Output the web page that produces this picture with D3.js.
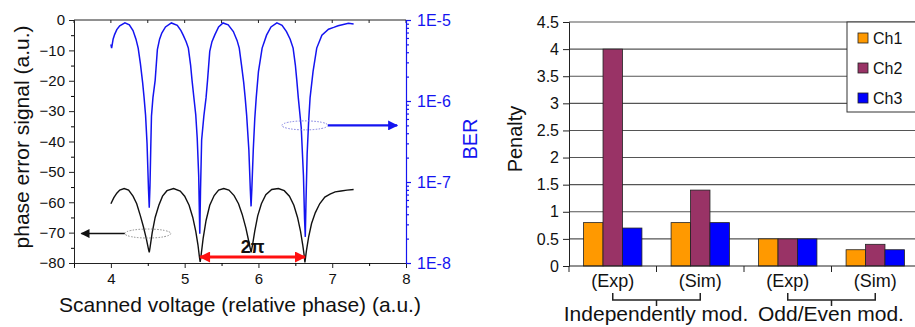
<!DOCTYPE html>
<html>
<head>
<meta charset="utf-8">
<script src="https://cdn.jsdelivr.net/npm/d3@7"></script>
<style>
body { margin: 0; background: #fff; }
text { font-family: Arial, "Liberation Sans", sans-serif; }
</style>
</head>
<body>
<svg id="chart" width="915" height="327"></svg>
<script>
// left panel: phase error signal (black) and BER (blue) vs scanned voltage
const errV = [4.00,4.04,4.08,4.12,4.18,4.24,4.30,4.35,4.40,4.44,4.48,4.51,4.52,4.53,4.56,4.60,4.65,4.70,4.76,4.85,
  4.94,5.00,5.06,5.11,5.15,5.18,5.20,5.21,5.22,5.25,5.29,5.34,5.40,5.46,5.53,5.60,5.67,5.73,5.78,5.83,
  5.87,5.90,5.92,5.95,5.99,6.04,6.10,6.18,6.27,6.35,6.42,6.48,6.53,6.57,6.60,6.62,6.63,6.65,6.68,6.72,
  6.77,6.83,6.90,6.97,7.04,7.12,7.20,7.29];
const errS = [-60.5,-58.5,-57.0,-56.0,-55.5,-56.0,-58.0,-60.5,-64.5,-68.0,-72.0,-75.5,-76.5,-75.0,-70.0,-65.0,-61.0,-58.0,-56.2,-55.5,
  -56.3,-58.0,-61.0,-65.0,-69.5,-74.0,-78.0,-79.6,-78.0,-72.0,-66.0,-61.0,-57.8,-56.0,-55.5,-56.0,-57.8,-60.5,-64.0,-68.5,
  -73.0,-76.5,-74.0,-69.5,-64.5,-60.5,-57.5,-55.8,-55.5,-56.2,-58.0,-61.0,-65.0,-69.5,-74.0,-77.5,-79.8,-76.0,-71.5,-67.0,
  -63.5,-60.5,-58.3,-57.3,-56.6,-56.3,-56.0,-55.8];

const berV = [4.00,4.01,4.03,4.05,4.08,4.12,4.19,4.25,4.30,4.34,4.37,4.40,4.43,4.45,4.47,4.49,4.51,4.52,4.53,4.54,
  4.55,4.57,4.60,4.63,4.66,4.69,4.74,4.82,4.90,4.95,4.98,5.02,5.05,5.08,5.10,5.13,5.15,5.17,5.19,5.205,
  5.215,5.23,5.26,5.29,5.31,5.34,5.37,5.41,5.46,5.52,5.59,5.66,5.71,5.74,5.77,5.80,5.82,5.84,5.87,5.89,
  5.90,5.91,5.93,5.95,5.97,6.00,6.05,6.11,6.17,6.25,6.32,6.38,6.43,6.47,6.50,6.52,6.54,6.58,6.61,6.625,
  6.635,6.645,6.66,6.68,6.70,6.74,6.79,6.86,6.95,7.02,7.08,7.15,7.22,7.29];
const berVal = [5.0e-6,4.5e-6,5.8e-6,6.6e-6,7.6e-6,8.5e-6,9.2e-6,8.7e-6,7.4e-6,5.8e-6,4.5e-6,2.9e-6,1.7e-6,1.1e-6,6.7e-7,3.0e-7,8e-8,4.8e-8,9e-8,2.5e-7,
  6.5e-7,1.1e-6,1.8e-6,4.3e-6,5.8e-6,6.9e-6,8.2e-6,9.2e-6,8.6e-6,7.4e-6,6.5e-6,5.4e-6,4.5e-6,2.8e-6,1.8e-6,1.0e-6,6.8e-7,3.5e-7,1.2e-7,2.3e-8,
  8e-8,3.3e-7,6.5e-7,1.1e-6,1.8e-6,4.1e-6,5.4e-6,6.6e-6,8.2e-6,9.2e-6,8.7e-6,7.2e-6,5.6e-6,4.5e-6,2.8e-6,1.7e-6,1.1e-6,6.7e-7,2.5e-7,8e-8,
  5e-8,8e-8,2.5e-7,6e-7,1.1e-6,2.3e-6,4.5e-6,6.5e-6,8.2e-6,9.2e-6,8.6e-6,7.2e-6,5.8e-6,4.5e-6,2.8e-6,1.8e-6,1.1e-6,4.7e-7,1.2e-7,3.5e-8,
  2.1e-8,6e-8,2.2e-7,5.5e-7,1.1e-6,2.3e-6,4.5e-6,6.5e-6,7.7e-6,8.1e-6,8.5e-6,8.8e-6,9.1e-6,8.9e-6];

const voltTicks = [4, 5, 6, 7, 8];
const errTicks = [0, -10, -20, -30, -40, -50, -60, -70, -80];
const berTicks = [1e-5, 1e-6, 1e-7, 1e-8];

// right panel: penalty bars
const groupKeys = ["indExp", "indSim", "oeExp", "oeSim"];
const tickLabels = ["(Exp)", "(Sim)", "(Exp)", "(Sim)"];
const groupLabels = ["Independently mod.", "Odd/Even mod."];
const series = ["Ch1", "Ch2", "Ch3"];
const ch1 = [0.8, 0.8, 0.5, 0.3];
const ch2 = [4.0, 1.4, 0.5, 0.4];
const ch3 = [0.7, 0.8, 0.5, 0.3];
const penaltyTicks = [0, 0.5, 1, 1.5, 2, 2.5, 3, 3.5, 4, 4.5];
const colors = ["#ff9900", "#993366", "#0000ff"];

const svg = d3.select('#chart');
svg.append('rect').attr('width', 915).attr('height', 327).attr('fill', '#fff');

// ---------- left panel ----------
const x = d3.scaleLinear().domain([3.5, 8]).range([74, 406]);
const y = d3.scaleLinear().domain([-80, 0]).range([263, 20]);
const yb = d3.scaleLog().domain([1e-8, 1e-5]).range([263, 20]);
const blue = '#1414f0';

const left = svg.append('g');

// frame top with small ticks
left.append('line').attr('x1', x(3.5)).attr('x2', x(8)).attr('y1', 20).attr('y2', 20)
  .attr('stroke', '#222').attr('stroke-width', 1);
left.selectAll('.ttick').data(d3.range(3.5, 8.01, 0.5)).enter().append('line')
  .attr('x1', d => x(d)).attr('x2', d => x(d)).attr('y1', 20).attr('y2', 23)
  .attr('stroke', '#222');

// bottom axis
const xAxis = left.append('g').attr('transform', 'translate(0,263)')
  .call(d3.axisBottom(x).tickValues(voltTicks).tickSize(5).tickPadding(5).tickFormat(d3.format('d')));
left.append('g').attr('transform', 'translate(0,263)')
  .call(d3.axisBottom(x).tickValues(d3.range(3.5, 8, 1)).tickSize(3).tickFormat(''))
  .select('.domain').remove();

// left axis
const yAxis = left.append('g').attr('transform', 'translate(74,0)')
  .call(d3.axisLeft(y).tickValues(errTicks).tickSize(5).tickPadding(4));
left.append('g').attr('transform', 'translate(74,0)')
  .call(d3.axisLeft(y).tickValues(d3.range(-75, 0, 10)).tickSize(3).tickFormat(''))
  .select('.domain').remove();
[xAxis, yAxis].forEach(a => {
  a.selectAll('text').attr('font-size', 15).attr('fill', '#111');
  a.selectAll('line,path').attr('stroke', '#222');
});

// right log axis (BER)
const minorBer = [];
[1e-8, 1e-7, 1e-6].forEach(d => { for (let k = 2; k < 10; k++) minorBer.push(d * k); });
const bAxis = left.append('g').attr('transform', 'translate(406,0)')
  .call(d3.axisRight(yb).tickValues(berTicks).tickSize(5).tickPadding(6)
    .tickFormat(d => '1E' + Math.round(Math.log10(d))));
left.append('g').attr('transform', 'translate(406,0)')
  .call(d3.axisRight(yb).tickValues(minorBer).tickSize(3).tickFormat(''))
  .select('.domain').remove();
left.selectAll('g').filter(function() { return this.getAttribute('transform') === 'translate(406,0)'; })
  .selectAll('line,path').attr('stroke', blue).attr('stroke-width', 1.2);
bAxis.selectAll('text').attr('font-size', 16).attr('fill', blue);

// curves
const errPts = errV.map((v, i) => [v, errS[i]]);
const berPts = berV.map((v, i) => [v, berVal[i]]);
left.append('path').datum(errPts)
  .attr('d', d3.line().x(d => x(d[0])).y(d => y(d[1])))
  .attr('fill', 'none').attr('stroke', '#111').attr('stroke-width', 1.4);
left.append('path').datum(berPts)
  .attr('d', d3.line().x(d => x(d[0])).y(d => yb(d[1])))
  .attr('fill', 'none').attr('stroke', blue).attr('stroke-width', 1.5);

// annotations: dotted ellipses and arrows
left.append('ellipse').attr('cx', x(4.5)).attr('cy', y(-70.3)).attr('rx', 23).attr('ry', 4.5)
  .attr('fill', 'none').attr('stroke', '#888').attr('stroke-dasharray', '1.5,1.5');
left.append('ellipse').attr('cx', x(6.63)).attr('cy', yb(5e-7)).attr('rx', 23).attr('ry', 4.5)
  .attr('fill', 'none').attr('stroke', '#7a7ae0').attr('stroke-dasharray', '1.5,1.5');

const defs = svg.append('defs');
function head(id, col, w, h) {
  defs.append('marker').attr('id', id).attr('viewBox', '0 0 10 10').attr('refX', 9).attr('refY', 5)
    .attr('markerUnits', 'userSpaceOnUse').attr('markerWidth', w).attr('markerHeight', h)
    .attr('orient', 'auto-start-reverse')
    .append('path').attr('d', 'M0,0L10,5L0,10z').attr('fill', col);
}
head('ahK', '#111', 10, 9);
head('ahB', blue, 12, 10);
head('ahR', '#ff1010', 12, 11);

left.append('line').attr('x1', x(4.5) - 23).attr('y1', y(-70.3)).attr('x2', x(3.6)).attr('y2', y(-70.3))
  .attr('stroke', '#111').attr('stroke-width', 1.6).attr('marker-end', 'url(#ahK)');
left.append('line').attr('x1', x(6.63) + 23).attr('y1', yb(5e-7)).attr('x2', x(7.88)).attr('y2', yb(5e-7))
  .attr('stroke', blue).attr('stroke-width', 2.2).attr('marker-end', 'url(#ahB)');
left.append('line').attr('x1', x(5.21)).attr('x2', x(6.63)).attr('y1', 257).attr('y2', 257)
  .attr('stroke', '#ff1010').attr('stroke-width', 3)
  .attr('marker-start', 'url(#ahR)').attr('marker-end', 'url(#ahR)');
left.append('text').attr('x', x(5.92)).attr('y', 253).attr('text-anchor', 'middle')
  .attr('font-size', 18).attr('font-weight', 'bold').attr('fill', '#111').text('2π');

// titles
left.append('text').attr('x', 240).attr('y', 312).attr('text-anchor', 'middle')
  .attr('font-size', 21).attr('fill', '#111').text('Scanned voltage (relative phase) (a.u.)');
left.append('text').attr('transform', 'translate(29,137) rotate(-90)').attr('text-anchor', 'middle')
  .attr('font-size', 21).attr('fill', '#111').text('phase error signal (a.u.)');
left.append('text').attr('transform', 'translate(477,139) rotate(-90)').attr('text-anchor', 'middle')
  .attr('font-size', 20).attr('fill', blue).text('BER');

// ---------- right panel ----------
const gx = d3.scaleBand().domain(groupKeys).range([569, 919]).paddingInner(1 / 3).paddingOuter(1 / 6);
const sx = d3.scaleBand().domain(series).range([0, gx.bandwidth()]);
const py = d3.scaleLinear().domain([0, 4.5]).range([266, 22]);
const right = svg.append('g');

right.selectAll('.grid').data(penaltyTicks.slice(1)).enter().append('line')
  .attr('x1', 569).attr('x2', 915).attr('y1', d => py(d)).attr('y2', d => py(d))
  .attr('stroke', '#555').attr('stroke-width', 1.1);

const vals = [ch1, ch2, ch3];
const bars = [];
series.forEach((s, si) => groupKeys.forEach((g, gi) => bars.push({ s: s, g: g, v: vals[si][gi], c: colors[si] })));
right.selectAll('.bar').data(bars).enter().append('rect')
  .attr('x', d => gx(d.g) + sx(d.s))
  .attr('width', sx.bandwidth())
  .attr('y', d => py(d.v))
  .attr('height', d => py(0) - py(d.v))
  .attr('fill', d => d.c).attr('stroke', '#222').attr('stroke-width', 0.8);

const pAxis = right.append('g').attr('transform', 'translate(569,0)')
  .call(d3.axisLeft(py).tickValues(penaltyTicks).tickSize(6).tickPadding(4).tickFormat(d => String(d)));
pAxis.selectAll('text').attr('font-size', 16).attr('fill', '#111');
pAxis.selectAll('line,path').attr('stroke', '#222');

// bottom axis with ticks at group boundaries
right.append('line').attr('x1', 569).attr('x2', 915).attr('y1', 266).attr('y2', 266).attr('stroke', '#222');
right.selectAll('.btick').data(groupKeys).enter().append('line')
  .attr('x1', d => gx(d) - gx.step() * gx.paddingInner() / 2)
  .attr('x2', d => gx(d) - gx.step() * gx.paddingInner() / 2)
  .attr('y1', 266).attr('y2', 272).attr('stroke', '#222');
right.selectAll('.clabel').data(groupKeys).enter().append('text')
  .attr('x', d => gx(d) + gx.bandwidth() / 2).attr('y', 287).attr('text-anchor', 'middle')
  .attr('font-size', 18).attr('fill', '#111').text((d, i) => tickLabels[i]);

// brackets
groupLabels.forEach((lab, i) => {
  const a = gx(groupKeys[2 * i]) + gx.bandwidth() / 2;
  const b = gx(groupKeys[2 * i + 1]) + gx.bandwidth() / 2;
  right.append('path').attr('d', `M${a},293V300H${b}V293M${(a + b) / 2},300V306`)
    .attr('fill', 'none').attr('stroke', '#222').attr('stroke-width', 1.5);
});
right.append('text').attr('x', 656).attr('y', 321).attr('text-anchor', 'middle')
  .attr('font-size', 21).attr('fill', '#111').text(groupLabels[0]);
right.append('text').attr('x', 831).attr('y', 321).attr('text-anchor', 'middle')
  .attr('font-size', 21).attr('fill', '#111').text(groupLabels[1]);

right.append('text').attr('transform', 'translate(522,139) rotate(-90)').attr('text-anchor', 'middle')
  .attr('font-size', 20).attr('fill', '#111').text('Penalty');

// legend
const lg = right.append('g');
lg.append('rect').attr('x', 847).attr('y', 22).attr('width', 80).attr('height', 90)
  .attr('fill', '#fff').attr('stroke', '#333');
series.forEach((s, i) => {
  lg.append('rect').attr('x', 858).attr('y', 33 + i * 30).attr('width', 10).attr('height', 10)
    .attr('fill', colors[i]).attr('stroke', '#222').attr('stroke-width', 0.8);
  lg.append('text').attr('x', 873).attr('y', 44 + i * 30).attr('font-size', 16).attr('fill', '#111').text(s);
});
</script>
</body>
</html>
